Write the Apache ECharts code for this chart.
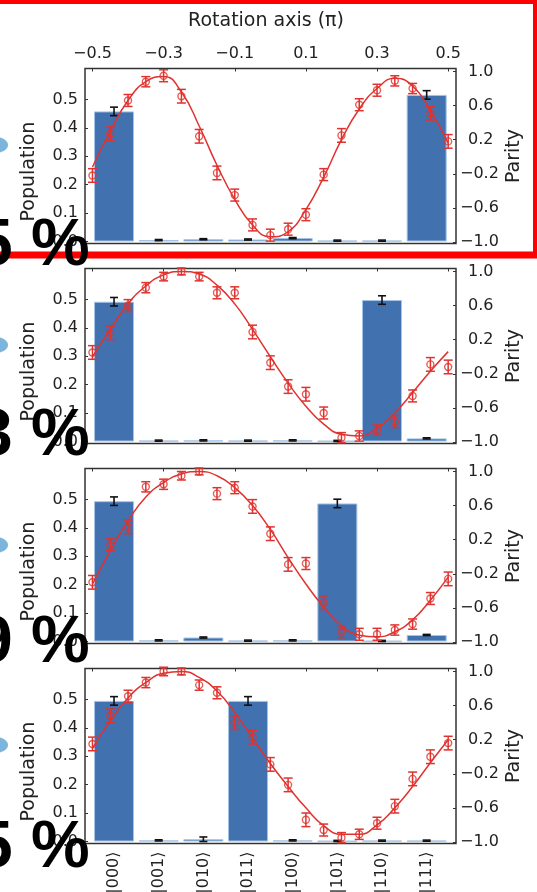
<!DOCTYPE html>
<html>
<head>
<meta charset="utf-8">
<script src="https://cdn.jsdelivr.net/npm/echarts@6/dist/echarts.min.js"></script>
<style>
html,body{margin:0;padding:0;background:#fff;}
#chart{width:537px;height:892px;}
</style>
</head>
<body>
<div id="chart"></div>
<script>
// ---------- data ----------
const states = ['|000⟩','|001⟩','|010⟩','|011⟩','|100⟩','|101⟩','|110⟩','|111⟩'];
const rotation = [-0.5,-0.45,-0.4,-0.35,-0.3,-0.25,-0.2,-0.15,-0.1,-0.05,0,0.05,0.1,0.15,0.2,0.25,0.3,0.35,0.4,0.45,0.5];
const rotationTicks = [-0.5,-0.3,-0.1,0.1,0.3,0.5];
const popTicks = [0,0.1,0.2,0.3,0.4,0.5];
const parityTicks = [-1,-0.6,-0.2,0.2,0.6,1];
const fidelityLabels = ['5 %','3 %','9 %','5 %'];

const pop1 = [0.458,0.005,0.008,0.007,0.012,0.003,0.003,0.516];
const pop2 = [0.492,0.003,0.004,0.003,0.004,0.002,0.498,0.011];
const pop3 = [0.494,0.004,0.014,0.003,0.004,0.486,0.002,0.023];
const pop4 = [0.495,0.004,0.008,0.495,0.004,0.002,0.003,0.003];
const popErr1 = [0.015,0.002,0.002,0.002,0.002,0.002,0.002,0.015];
const popErr2 = [0.015,0.002,0.002,0.002,0.002,0.002,0.015,0.002];
const popErr3 = [0.015,0.002,0.002,0.002,0.002,0.015,0.002,0.002];
const popErr4 = [0.015,0.002,0.008,0.015,0.002,0.002,0.002,0.002];

const parity1 = [-0.22,0.27,0.66,0.88,0.95,0.71,0.24,-0.19,-0.45,-0.80,-0.92,-0.85,-0.68,-0.21,0.25,0.61,0.78,0.89,0.80,0.51,0.18];
const parity2 = [0.05,0.28,0.60,0.81,0.94,1.00,0.94,0.75,0.75,0.29,-0.07,-0.35,-0.44,-0.66,-0.95,-0.93,-0.86,-0.76,-0.46,-0.09,-0.12];
const parity3 = [-0.30,0.14,0.35,0.82,0.85,0.95,1.00,0.74,0.81,0.59,0.27,-0.09,-0.08,-0.54,-0.88,-0.91,-0.91,-0.86,-0.79,-0.49,-0.26];
const parity4 = [0.15,0.48,0.71,0.87,1.00,1.00,0.84,0.75,0.40,0.23,-0.09,-0.33,-0.74,-0.86,-0.95,-0.91,-0.78,-0.58,-0.26,0.00,0.16];
const parityErr1 = [0.08,0.08,0.07,0.06,0.07,0.08,0.08,0.08,0.07,0.07,0.07,0.07,0.07,0.07,0.08,0.07,0.07,0.06,0.06,0.08,0.08];
const parityErr2 = [0.08,0.08,0.07,0.06,0.05,0.04,0.05,0.07,0.07,0.08,0.08,0.08,0.08,0.07,0.06,0.06,0.06,0.07,0.07,0.08,0.08];
const parityErr3 = [0.08,0.07,0.08,0.06,0.06,0.05,0.04,0.07,0.07,0.08,0.08,0.08,0.07,0.08,0.07,0.07,0.07,0.06,0.06,0.07,0.08];
const parityErr4 = [0.08,0.08,0.07,0.06,0.05,0.04,0.06,0.07,0.08,0.08,0.08,0.08,0.08,0.07,0.06,0.06,0.07,0.08,0.08,0.08,0.08];

const fit1 = [-0.12,0.30,0.66,0.88,0.94,0.76,0.36,-0.10,-0.50,-0.80,-0.94,-0.88,-0.62,-0.24,0.20,0.56,0.80,0.92,0.83,0.54,0.16];
const fit2 = [0.00,0.32,0.62,0.83,0.96,1.00,0.97,0.84,0.62,0.32,0.00,-0.31,-0.58,-0.79,-0.91,-0.93,-0.84,-0.66,-0.42,-0.17,0.06];
const fit3 = [-0.32,0.07,0.42,0.70,0.87,0.97,1.00,0.95,0.81,0.60,0.32,-0.01,-0.32,-0.59,-0.81,-0.92,-0.94,-0.88,-0.74,-0.51,-0.24];
const fit4 = [0.10,0.42,0.69,0.87,0.98,1.00,0.93,0.77,0.52,0.22,-0.08,-0.35,-0.60,-0.81,-0.91,-0.91,-0.80,-0.60,-0.35,-0.07,0.20];

// ---------- build ----------
const pops = [pop1,pop2,pop3,pop4];
const popErrs = [popErr1,popErr2,popErr3,popErr4];
const parities = [parity1,parity2,parity3,parity4];
const parityErrs = [parityErr1,parityErr2,parityErr3,parityErr4];
const fits = [fit1,fit2,fit3,fit4];

const RED = '#e0322e';
const BLUE = '#4271b0';
const FONT = 'DejaVu Sans';
const TXT = '#222';

const fmt = v => (v < 0 ? '\u2212' : '') + Math.abs(v).toFixed(1);
const fmtRight = v => (v < 0 ? '\u2212' : '\u2002') + Math.abs(v).toFixed(1);

function errRender(capHalf, color, lw) {
  return function (params, api) {
    const x = api.value(0), lo = api.value(1), hi = api.value(2);
    const a = api.coord([x, lo]);
    const b = api.coord([x, hi]);
    const st = {stroke: color, lineWidth: lw};
    return {
      type: 'group',
      children: [
        {type: 'line', shape: {x1: a[0], y1: a[1], x2: b[0], y2: b[1]}, style: st},
        {type: 'line', shape: {x1: a[0] - capHalf, y1: a[1], x2: a[0] + capHalf, y2: a[1]}, style: st},
        {type: 'line', shape: {x1: b[0] - capHalf, y1: b[1], x2: b[0] + capHalf, y2: b[1]}, style: st}
      ]
    };
  };
}

const grids = [], xAxes = [], yAxes = [], series = [], graphics = [];
const POP_MIN = -0.007, POP_MAX = 0.609, PAR_MIN = -1.018, PAR_MAX = 1.035;
const noLine = {show: false, onZero: false};

for (let k = 0; k < 4; k++) {
  const top = 68.5 + 200 * k;
  grids.push({left: 85, right: 81, top: top, height: 175, show: true, borderColor: '#333', borderWidth: 1.5,
    backgroundColor: 'transparent', containLabel: false, outerBoundsMode: 'none'});
  grids.push({left: 91.7, right: 88, top: top, height: 175, containLabel: false, outerBoundsMode: 'none'});
  const gA = 2 * k, gB = 2 * k + 1;

  xAxes.push({
    gridIndex: gA, type: 'value', position: 'top', min: -0.521, max: 0.522,
    axisLine: noLine, splitLine: {show: false},
    axisTick: {show: true, inside: true, length: 3, customValues: rotationTicks, lineStyle: {color: '#333'}},
    axisLabel: {show: k === 0, customValues: rotationTicks, formatter: fmt, margin: 7,
      fontFamily: FONT, fontSize: 16, color: TXT}
  });
  xAxes.push({
    gridIndex: gB, type: 'category', data: states, position: 'bottom',
    axisLine: noLine, axisTick: {show: false}, splitLine: {show: false},
    axisLabel: {show: k === 3, rotate: 90, margin: 8, fontFamily: FONT, fontSize: 16, color: TXT}
  });

  yAxes.push({
    gridIndex: gA, type: 'value', position: 'left', min: POP_MIN, max: POP_MAX,
    axisLine: noLine, splitLine: {show: false},
    axisTick: {show: true, inside: true, length: 3, customValues: popTicks, lineStyle: {color: '#333'}},
    axisLabel: {customValues: popTicks, formatter: v => v.toFixed(1), margin: 7, fontFamily: FONT, fontSize: 16, color: TXT}
  });
  yAxes.push({
    gridIndex: gA, type: 'value', position: 'right', min: PAR_MIN, max: PAR_MAX,
    axisLine: noLine, splitLine: {show: false},
    axisTick: {show: true, inside: true, length: 3, customValues: parityTicks, lineStyle: {color: '#333'}},
    axisLabel: {customValues: parityTicks, formatter: fmtRight, margin: 4, fontFamily: FONT, fontSize: 16, color: TXT}
  });
  yAxes.push({
    gridIndex: gB, type: 'value', min: POP_MIN, max: POP_MAX, show: false, axisLine: noLine
  });

  const xA = gA, xB = gB, yPar = 3 * k + 1, yBar = 3 * k + 2;

  series.push({
    type: 'bar', xAxisIndex: xB, yAxisIndex: yBar, data: pops[k], barWidth: 40,
    itemStyle: {color: BLUE, borderColor: '#a3c4e6', borderWidth: 1}, z: 2, animation: false
  });
  series.push({
    type: 'custom', xAxisIndex: xB, yAxisIndex: yBar,
    data: pops[k].map((v, i) => [i, v - popErrs[k][i], v + popErrs[k][i]]),
    encode: {x: 0, y: [1, 2]}, renderItem: errRender(4, '#111', 1.6), z: 3, animation: false
  });
  series.push({
    type: 'line', xAxisIndex: xA, yAxisIndex: yPar,
    data: rotation.map((x, i) => [x, fits[k][i]]), smooth: 0.5, showSymbol: false,
    lineStyle: {color: RED, width: 1.5}, z: 4, animation: false
  });
  series.push({
    type: 'custom', xAxisIndex: xA, yAxisIndex: yPar,
    data: rotation.map((x, i) => [x, parities[k][i] - parityErrs[k][i], parities[k][i] + parityErrs[k][i]]),
    encode: {x: 0, y: [1, 2]}, renderItem: errRender(4.5, RED, 1.5), z: 5, animation: false
  });
  series.push({
    type: 'scatter', xAxisIndex: xA, yAxisIndex: yPar,
    data: rotation.map((x, i) => [x, parities[k][i]]), symbol: 'circle', symbolSize: 7,
    itemStyle: {color: 'rgba(255,255,255,0)', borderColor: RED, borderWidth: 1.4}, z: 6, animation: false
  });

  graphics.push({type: 'ellipse', shape: {cx: -5, cy: 145 + 200 * k, rx: 13, ry: 8}, style: {fill: '#7cb5dc'}, z: 10});
  graphics.push({type: 'text', x: 29, y: 171.5 + 200 * k, rotation: Math.PI / 2,
    style: {text: 'Population', font: '19px "DejaVu Sans"', fill: TXT, align: 'center', verticalAlign: 'middle'}, z: 10});
  graphics.push({type: 'text', x: 514, y: 156 + 200 * k, rotation: Math.PI / 2,
    style: {text: 'Parity', font: '19px "DejaVu Sans"', fill: TXT, align: 'center', verticalAlign: 'middle'}, z: 10});
}

const textCenterY = [247, 437, 644, 849];
graphics.push({type: 'rect', shape: {x: -10, y: 0.5, width: 546.5, height: 254.5},
  style: {fill: 'none', stroke: '#ff0000', lineWidth: 7}, z: 20});
graphics.push({type: 'text', x: 266, y: 21,
  style: {text: 'Rotation axis (\u03c0)', font: '19px "DejaVu Sans"', fill: TXT, align: 'center', verticalAlign: 'middle'}, z: 10});
for (let k = 0; k < 4; k++) {
  graphics.push({type: 'text', x: -24, y: textCenterY[k],
    style: {text: fidelityLabels[k], font: 'bold 66px "Liberation Sans"', fill: '#000', align: 'left', verticalAlign: 'middle'}, z: 30});
}

const chart = echarts.init(document.getElementById('chart'), null, {renderer: 'canvas'});
chart.setOption({
  animation: false,
  backgroundColor: '#fff',
  grid: grids,
  xAxis: xAxes,
  yAxis: yAxes,
  series: series,
  graphic: {elements: graphics}
});
</script>
</body>
</html>
